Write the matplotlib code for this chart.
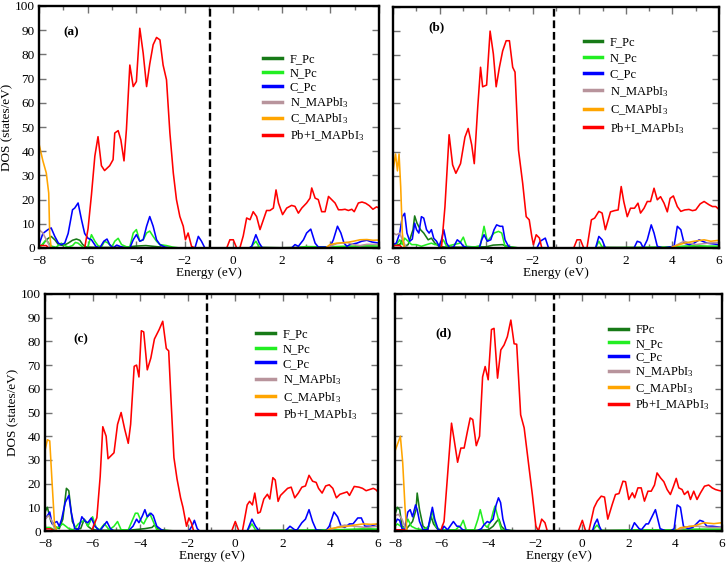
import matplotlib
matplotlib.use("Agg")
import matplotlib.pyplot as plt
import numpy as np
from matplotlib.ticker import MultipleLocator

plt.rcParams["font.family"] = ["Liberation Serif", "DejaVu Serif"]
plt.rcParams["mathtext.fontset"] = "custom"
plt.rcParams["mathtext.rm"] = "Liberation Serif"
plt.rcParams["mathtext.it"] = "Liberation Serif:italic"

# ---- data: (energy eV, DOS states/eV) ----
# panel (a)
A_FPC = [(-8, 0.5), (-7.84, 1.5), (-7.7, 3.4), (-7.5, 4.8), (-7.35, 3.4), (-7.2, 1.4), (-7.0, 1), (-6.8, 2),
         (-6.62, 3.2), (-6.46, 3.7), (-6.32, 3.2), (-6.2, 1.4), (-6.05, 0.4), (-5.5, 0.2), (-4.5, 0.3), (-4.0, 0.8),
         (-3.6, 1), (-3.2, 0.6), (-2.8, 0.2), (-2.4, 0), (0.5, 0), (1.0, 0.3), (2.0, 0.1), (3.0, 0.3), (4.0, 0.2),
         (5.0, 0.4), (6.0, 0.4)]
A_NPC = [(-8, 0), (-7.7, 3.4), (-7.5, 0.8), (-7.3, 0.3), (-7.08, 2), (-6.94, 1), (-6.8, 0.4), (-6.62, 1), (-6.5, 2.3),
         (-6.39, 2), (-6.2, 0.4), (-6.0, 0), (-5.84, 5.5), (-5.7, 2.8), (-5.57, 1), (-5.43, 0.4), (-5.3, 2.8),
         (-5.15, 2), (-5.0, 0.4), (-4.88, 2.8), (-4.74, 4), (-4.6, 1.4), (-4.4, 0.5), (-4.26, 0.5), (-4.12, 6.2),
         (-3.99, 7.6), (-3.85, 2.8), (-3.71, 3.4), (-3.57, 6.2), (-3.44, 7), (-3.3, 4.8), (-3.16, 2.8), (-3.02, 1.4),
         (-2.75, 1), (-2.5, 0.4), (-2.2, 0), (0.7, 0), (0.93, 2.8), (1.07, 0.4), (1.2, 0), (2.5, 0), (3.0, 0.6),
         (3.5, 0.5), (4.0, 0.5), (4.5, 0.7), (5.0, 0.8), (5.5, 1), (6.0, 0.8)]
A_CPC = [(-8, 1.4), (-7.84, 6), (-7.63, 7.6), (-7.5, 8.3), (-7.35, 4.8), (-7.2, 2), (-7.08, 1.4), (-6.94, 2),
         (-6.8, 6), (-6.62, 15.8), (-6.53, 16.5), (-6.39, 18.6), (-6.25, 11.7), (-6.12, 6), (-5.98, 4), (-5.84, 3.4),
         (-5.66, 0.7), (-5.5, 0), (-5.33, 2.8), (-5.2, 3.7), (-5.09, 1.4), (-4.95, 0), (-4.8, 1.2), (-4.65, 0.6),
         (-4.45, 0), (-4.26, 0), (-4.12, 3.4), (-3.99, 5.5), (-3.85, 2.8), (-3.71, 3.4), (-3.57, 9), (-3.44, 13),
         (-3.3, 9), (-3.16, 3.4), (-3.02, 1.4), (-2.82, 0.4), (-2.6, 0), (-1.58, 0), (-1.44, 4.8), (-1.31, 2.8),
         (-1.17, 0), (0.65, 0), (0.76, 0.7), (0.93, 5.5), (1.07, 2), (1.2, 0), (2.4, 0), (2.54, 1.4), (2.68, 0.7),
         (2.89, 3.4), (3.02, 6.2), (3.19, 7.8), (3.37, 2), (3.5, 0.4), (3.98, 0.4), (4.12, 3.4), (4.29, 9),
         (4.43, 6.2), (4.56, 2), (4.68, 0.7), (4.8, 1.4), (5.09, 2), (5.29, 2.8), (5.5, 3.2), (5.7, 2.5), (6.0, 2)]
A_NMA = [(-8, 7.6), (-7.84, 6.2), (-7.7, 3.4), (-7.56, 0.7), (-7.45, 0), (3.8, 0), (3.98, 0.7), (4.26, 1.8),
         (4.68, 2.3), (4.95, 1.4), (5.22, 1), (5.5, 1.5), (6.0, 1.5)]
A_CMA = [(-8, 43), (-7.84, 36), (-7.7, 31), (-7.6, 22.7), (-7.56, 6), (-7.5, 0), (3.8, 0), (3.98, 1.4), (4.26, 2),
         (4.68, 2.3), (4.95, 2.8), (5.22, 3.4), (5.5, 3.5), (5.75, 3.2), (6.0, 3.3)]
A_PBI = [(-8, 1.0), (-7.7, 1.0), (-7.6, 0), (-6.12, 0), (-5.98, 8), (-5.84, 22), (-5.7, 38), (-5.57, 46),
         (-5.43, 34), (-5.3, 32), (-5.09, 34), (-4.95, 36.5), (-4.88, 47.5), (-4.74, 48.5), (-4.63, 44.7),
         (-4.5, 36), (-4.4, 49), (-4.26, 75.6), (-4.12, 66.7), (-3.99, 68.8), (-3.85, 90.8), (-3.71, 80.5),
         (-3.57, 66.7), (-3.44, 76), (-3.3, 84), (-3.16, 87), (-3.02, 86), (-2.89, 75.6), (-2.75, 69.5),
         (-2.61, 47.5), (-2.47, 31), (-2.34, 20), (-2.2, 13), (-2.06, 9), (-1.97, 3.4), (-1.86, 6.2), (-1.72, 0.7),
         (-1.58, 0), (-0.27, 0), (-0.14, 3.4), (0.0, 3.4), (0.14, 0), (0.27, 0), (0.41, 5), (0.55, 12.4),
         (0.69, 11.7), (0.82, 15), (0.96, 13), (1.1, 7.6), (1.24, 11.7), (1.37, 15.5), (1.51, 15.5), (1.65, 16.5),
         (1.76, 24), (1.86, 18.6), (2.03, 13.8), (2.2, 16.5), (2.4, 17.6), (2.54, 17.2), (2.68, 14.4), (2.82, 16.5),
         (3.02, 18.6), (3.16, 20.6), (3.23, 24.8), (3.37, 20.6), (3.5, 20), (3.64, 15), (3.78, 15), (3.92, 21.3),
         (4.05, 20), (4.19, 18.6), (4.33, 15.8), (4.47, 15.8), (4.6, 16), (4.74, 15.5), (4.88, 16), (4.98, 15),
         (5.15, 18.6), (5.3, 19), (5.45, 18.5), (5.6, 17.5), (5.75, 16), (5.9, 17), (6.0, 16.5)]

# panel (b)
B_FPC = [(-8, 1.4), (-7.71, 1.4), (-7.6, 3.4), (-7.5, 0.7), (-7.35, 1.4), (-7.14, 7.6), (-7.07, 13.3),
         (-6.97, 10.3), (-6.82, 7.6), (-6.68, 6.2), (-6.49, 3.4), (-6.35, 4.1), (-6.2, 2), (-6.02, 0.7), (-5.8, 0.4),
         (-5.0, 0.3), (-4.0, 0.5), (-3.7, 1.2), (-3.3, 1.4), (-3.1, 0.7), (-2.8, 0.2), (-2.5, 0), (0.5, 0),
         (1.0, 0.3), (2.5, 0.2), (4.0, 0.3), (5.0, 0.5), (6.0, 0.4)]
B_NPC = [(-8, 0.7), (-7.86, 1.4), (-7.71, 3.4), (-7.6, 1.4), (-7.5, 4.1), (-7.35, 2.8), (-7.2, 1.4), (-7.0, 1.4),
         (-6.78, 0.7), (-6.56, 1.4), (-6.35, 2), (-6.2, 1.4), (-5.99, 1.4), (-5.84, 3.4), (-5.7, 0.7), (-5.4, 1.4),
         (-5.13, 2), (-4.98, 4.5), (-4.84, 0.7), (-4.5, 0.4), (-4.25, 1), (-4.09, 9), (-3.95, 2.8), (-3.8, 4.5),
         (-3.66, 6.2), (-3.47, 6.9), (-3.33, 6.2), (-3.19, 0.7), (-2.9, 0.4), (-2.6, 0), (0.7, 0), (0.84, 2.8),
         (0.98, 0.4), (1.1, 0), (3.0, 0.3), (4.0, 0.4), (4.5, 0.8), (5.0, 1), (5.5, 0.8), (6.0, 0.8)]
B_CPC = [(-8, 1.4), (-7.86, 2), (-7.71, 6.2), (-7.6, 13), (-7.5, 14.4), (-7.4, 6.2), (-7.28, 2.8), (-7.17, 3.7),
         (-7.07, 10.3), (-6.99, 7.6), (-6.89, 6.2), (-6.78, 13), (-6.68, 12.4), (-6.56, 7.6), (-6.45, 6.2),
         (-6.35, 7.6), (-6.25, 4), (-6.13, 2.8), (-6.02, 0.7), (-5.92, 3.4), (-5.82, 7.6), (-5.7, 2), (-5.56, 0),
         (-5.4, 0.4), (-5.24, 3.4), (-5.1, 2.3), (-4.98, 0.7), (-4.8, 0.2), (-4.3, 0), (-4.19, 3.4), (-4.09, 5.5),
         (-3.95, 2.8), (-3.8, 3.4), (-3.66, 7.6), (-3.55, 9.6), (-3.4, 9), (-3.29, 9), (-3.19, 3.4), (-3.04, 0.7),
         (-2.9, 0), (-1.82, 0), (-1.68, 2.8), (-1.46, 4.1), (-1.32, 0), (0.7, 0), (0.84, 4.8), (0.98, 3.4),
         (1.12, 0), (2.35, 0), (2.49, 2.8), (2.63, 2.3), (2.75, 0), (2.92, 3.4), (3.09, 9.6), (3.21, 6.2),
         (3.35, 0.7), (3.6, 0), (4.07, 0.7), (4.21, 9), (4.36, 7.6), (4.5, 2), (4.72, 1.4), (4.93, 2), (5.15, 3.4),
         (5.29, 2.8), (5.5, 2), (6.0, 1.4)]
B_NMA = [(-8, 6.2), (-7.86, 5.5), (-7.71, 6.2), (-7.6, 3.4), (-7.45, 0.7), (-7.35, 0), (3.9, 0), (4.07, 0.7),
         (4.5, 2.8), (4.75, 2), (5.0, 1.4), (5.5, 2), (6.0, 2.3)]
B_CMA = [(-8, 32), (-7.89, 39), (-7.81, 32), (-7.74, 39), (-7.67, 25.5), (-7.6, 6.2), (-7.53, 0.7), (-7.45, 0),
         (3.9, 0), (4.07, 0.7), (4.5, 2), (4.93, 2.8), (5.36, 3.4), (5.65, 2.8), (6.0, 3.2)]
B_PBI = [(-8, 1.0), (-7.7, 1.0), (-7.6, 0), (-5.92, 0), (-5.77, 17), (-5.59, 47), (-5.44, 34.5), (-5.3, 31),
         (-5.1, 35), (-4.91, 46), (-4.77, 49.6), (-4.62, 42.8), (-4.51, 35), (-4.36, 58.6), (-4.24, 75),
         (-4.15, 66.9), (-3.98, 67.6), (-3.83, 90), (-3.69, 80.5), (-3.57, 66.9), (-3.43, 75), (-3.29, 81.8),
         (-3.14, 86), (-3.0, 86), (-2.86, 75), (-2.76, 73), (-2.61, 40.6), (-2.43, 26.8), (-2.28, 13), (-2.15, 11.7),
         (-2.04, 4.8), (-1.97, 1.4), (-1.85, 5.5), (-1.71, 4.1), (-1.61, 0), (-0.24, 0), (-0.1, 3.4), (0.05, 3.4),
         (0.19, 0), (0.33, 0), (0.52, 11.7), (0.66, 12.4), (0.84, 15.2), (0.98, 14.5), (1.12, 7.6), (1.34, 15),
         (1.51, 15.5), (1.67, 15.8), (1.8, 25.5), (1.91, 19.3), (2.06, 13), (2.2, 16.5), (2.37, 16.5), (2.52, 18.6),
         (2.63, 14.5), (2.78, 16.5), (2.92, 19.3), (3.06, 19.3), (3.21, 24.8), (3.35, 20), (3.49, 21.3),
         (3.64, 18.6), (3.78, 15), (3.9, 20.6), (4.04, 21.6), (4.21, 17.2), (4.36, 15.2), (4.53, 15.8), (4.71, 16),
         (4.86, 15.5), (5.0, 15.8), (5.19, 18.3), (5.36, 19.3), (5.58, 17.9), (5.72, 17.2), (5.86, 17.2), (6.0, 16)]

# panel (c)
C_FPC = [(-8, 8), (-7.9, 10), (-7.75, 4), (-7.6, 2), (-7.4, 1), (-7.25, 5), (-7.1, 18), (-7.0, 17), (-6.85, 4),
         (-6.7, 1), (-6.5, 1), (-6.35, 5), (-6.2, 2), (-6.0, 0.5), (-5.5, 0.3), (-4.5, 0.3), (-3.8, 1), (-3.5, 1.5),
         (-3.4, 2.5), (-3.2, 0.5), (-2.8, 0.2), (-2.5, 0), (0.5, 0), (1.0, 0.3), (3.0, 0.3), (4.5, 0.4), (6.0, 0.5)]
C_NPC = [(-8, 1.5), (-7.8, 1.5), (-7.6, 0.5), (-7.4, 2), (-7.25, 3), (-7.0, 1), (-6.8, 0.5), (-6.6, 3), (-6.45, 4),
         (-6.3, 4.5), (-6.2, 2), (-6.0, 6), (-5.85, 1.5), (-5.7, 0.5), (-5.5, 3), (-5.3, 0.5), (-5.1, 2), (-4.95, 4),
         (-4.8, 0.5), (-4.5, 0.5), (-4.2, 7.5), (-4.1, 7.5), (-3.95, 4), (-3.85, 3), (-3.75, 5), (-3.6, 7.5),
         (-3.45, 4), (-3.3, 0.5), (-3.0, 0.3), (-2.7, 0), (0.5, 0), (0.7, 3), (0.85, 0.5), (1.0, 0), (2.5, 0.3),
         (3.5, 0.5), (4.5, 0.6), (5.0, 0.8), (5.5, 1), (6.0, 0.8)]
C_CPC = [(-8, 5), (-7.9, 6.5), (-7.8, 8), (-7.7, 3), (-7.5, 4), (-7.4, 2), (-7.3, 5), (-7.15, 12), (-7.0, 15),
         (-6.9, 8), (-6.75, 1), (-6.6, 0.5), (-6.45, 6), (-6.3, 4), (-6.2, 3.5), (-6.05, 5.5), (-5.9, 2), (-5.7, 0),
         (-5.55, 2), (-5.4, 4), (-5.25, 1), (-5.1, 0), (-4.5, 0), (-4.3, 2), (-4.15, 5), (-4.05, 3.5), (-3.9, 6.5),
         (-3.8, 9), (-3.7, 6), (-3.55, 7.5), (-3.45, 6.5), (-3.3, 2), (-3.1, 0.5), (-2.9, 0), (-1.95, 0),
         (-1.8, 2.5), (-1.72, 4.5), (-1.6, 1), (-1.5, 0), (0.5, 0), (0.7, 5), (0.85, 2), (1.0, 0), (2.1, 0),
         (2.3, 2), (2.5, 0.5), (2.6, 0.5), (2.8, 3.5), (2.95, 5), (3.1, 9), (3.25, 4), (3.4, 0.5), (3.8, 0),
         (3.95, 2), (4.15, 8), (4.3, 6), (4.45, 2), (4.6, 1.5), (4.8, 3), (4.95, 3), (5.15, 5.5), (5.3, 5.5),
         (5.45, 2), (5.7, 2), (6.0, 3)]
C_NMA = [(-8, 5), (-7.85, 6.5), (-7.7, 4), (-7.6, 1), (-7.5, 0), (3.8, 0), (4.0, 0.5), (4.4, 2), (4.6, 2.5),
         (5.0, 2), (5.5, 1.5), (6.0, 2)]
C_CMA = [(-8, 34), (-7.9, 38.5), (-7.8, 38), (-7.7, 20), (-7.6, 3), (-7.5, 0), (3.8, 0), (4.0, 1), (4.3, 1.5),
         (4.7, 2), (5.0, 2.5), (5.4, 3), (5.7, 2.8), (6.0, 3)]
C_PBI = [(-8, 0.9), (-7.75, 0.9), (-7.6, 0), (-6.04, 0), (-5.82, 5.6), (-5.68, 23), (-5.57, 44), (-5.43, 40),
         (-5.35, 30.5), (-5.1, 33), (-4.95, 45), (-4.8, 50), (-4.65, 43), (-4.5, 37), (-4.4, 45), (-4.25, 69.5),
         (-4.15, 70), (-4.05, 65), (-3.95, 84.5), (-3.85, 84), (-3.7, 68), (-3.55, 73), (-3.4, 81), (-3.2, 85),
         (-3.05, 88.5), (-2.9, 77), (-2.8, 76), (-2.7, 55), (-2.58, 31), (-2.45, 22), (-2.3, 14), (-2.2, 10),
         (-2.05, 2), (-1.95, 5.5), (-1.85, 3.5), (-1.75, 0), (-0.15, 0), (0.0, 4), (0.15, 0), (0.3, 0), (0.5, 11),
         (0.6, 12.5), (0.72, 11), (0.82, 16), (0.95, 7.5), (1.05, 8), (1.2, 13.5), (1.35, 15.5), (1.45, 13.5),
         (1.58, 22.5), (1.68, 21.5), (1.8, 12.5), (1.9, 15), (2.05, 16.5), (2.2, 18), (2.35, 18.5), (2.5, 14),
         (2.65, 16), (2.8, 18.5), (2.95, 19), (3.1, 23.5), (3.25, 21), (3.4, 20.5), (3.5, 18), (3.65, 16),
         (3.8, 19), (3.95, 19.5), (4.1, 18), (4.25, 14), (4.4, 15.5), (4.55, 16), (4.7, 16.5), (4.8, 15),
         (5.0, 18.8), (5.2, 18.5), (5.35, 18), (5.5, 17), (5.65, 17.5), (5.8, 18), (5.9, 17.5), (6.0, 16.5)]

# panel (d)
D_FPC = [(-8, 7), (-7.9, 10), (-7.8, 9), (-7.7, 2), (-7.5, 1), (-7.25, 4), (-7.1, 9), (-7.05, 16), (-6.95, 9),
         (-6.8, 2), (-6.6, 0.5), (-6.45, 6), (-6.35, 3), (-6.2, 1), (-6.0, 0.3), (-4.5, 0.3), (-4.0, 0.5), (-3.8, 2),
         (-3.65, 4), (-3.55, 5), (-3.45, 2), (-3.3, 0.5), (-3.0, 0.2), (-2.7, 0), (0.5, 0), (1.0, 0.3), (3.0, 0.3),
         (4.5, 0.5), (6.0, 0.5)]
D_NPC = [(-8, 2), (-7.9, 3), (-7.75, 2), (-7.6, 1), (-7.45, 5), (-7.3, 2), (-7.1, 1), (-6.8, 0.5), (-6.55, 2),
         (-6.42, 8.5), (-6.25, 2), (-6.1, 0.5), (-5.4, 0.5), (-5.3, 1.5), (-5.2, 2), (-5.08, 4.5), (-4.95, 0.5),
         (-4.6, 0.5), (-4.45, 5), (-4.35, 9), (-4.2, 3), (-4.05, 1.5), (-3.9, 4), (-3.8, 8), (-3.72, 10.5),
         (-3.6, 6), (-3.45, 0.5), (-3.2, 0.2), (-2.9, 0), (0.45, 0), (0.65, 2.5), (0.8, 0.5), (1.0, 0), (2.3, 0.5),
         (3.1, 0.5), (4.0, 0.4), (4.5, 0.8), (5.0, 0.8), (5.5, 0.8), (6.0, 0.8)]
D_CPC = [(-8, 3), (-7.9, 5), (-7.8, 4.5), (-7.7, 1), (-7.6, 0.5), (-7.45, 8), (-7.35, 9), (-7.25, 6), (-7.12, 11),
         (-7.05, 9), (-6.95, 4), (-6.8, 0.5), (-6.6, 0.5), (-6.4, 10), (-6.3, 5), (-6.15, 0.5), (-6.0, 0.3),
         (-5.9, 2), (-5.75, 0.5), (-5.5, 4), (-5.35, 2), (-5.25, 2), (-5.1, 0.5), (-4.9, 0), (-4.5, 0), (-4.4, 0.5),
         (-4.3, 1), (-4.2, 2.5), (-4.05, 4), (-3.95, 3.5), (-3.8, 5), (-3.67, 11), (-3.57, 14), (-3.48, 12),
         (-3.38, 5), (-3.25, 0.5), (-3.0, 0), (0.45, 0), (0.55, 3), (0.66, 5), (0.75, 2), (0.85, 0), (2.1, 0),
         (2.25, 3.5), (2.45, 1), (2.55, 0.5), (2.75, 3), (2.85, 3), (3.05, 7), (3.15, 9), (3.35, 1), (3.6, 0),
         (3.8, 0), (3.95, 1), (4.08, 11), (4.22, 10), (4.35, 2), (4.55, 1), (4.75, 1.5), (4.9, 3), (5.05, 4.5),
         (5.2, 4), (5.35, 2), (5.6, 2), (6.0, 1.5)]
D_NMA = [(-8, 6.5), (-7.85, 7), (-7.7, 5), (-7.55, 1), (-7.45, 0), (4.0, 0), (4.3, 1), (4.6, 2), (5.0, 2),
         (5.5, 1.5), (6.0, 1.5)]
D_CMA = [(-8, 33.7), (-7.77, 40), (-7.67, 28.8), (-7.57, 9.8), (-7.49, 0), (4.0, 0), (4.22, 1.4), (4.79, 2.1),
         (5.22, 3.5), (5.65, 3.1), (6.0, 3.5)]
D_PBI = [(-8, 0.5), (-7.6, 0.5), (-7.5, 0), (-6.05, 0), (-5.9, 4), (-5.58, 45.5), (-5.46, 38), (-5.32, 29),
         (-5.18, 35), (-5.04, 35), (-4.9, 42), (-4.78, 47.7), (-4.67, 47), (-4.52, 36), (-4.38, 40), (-4.25, 65),
         (-4.14, 69.4), (-4.01, 63.8), (-3.87, 85), (-3.76, 85.5), (-3.61, 64.5), (-3.47, 76.4), (-3.33, 78.5),
         (-3.19, 82), (-3.04, 89), (-2.9, 79), (-2.79, 78.8), (-2.62, 49), (-2.47, 43.5), (-2.26, 26.6),
         (-2.12, 15.4), (-1.97, 2.1), (-1.86, 0), (-1.72, 5), (-1.58, 3.5), (-1.48, 0), (-0.15, 0), (0.02, 4.5),
         (0.16, 0), (0.3, 0), (0.52, 9.8), (0.66, 12.6), (0.83, 14.7), (0.97, 14.3), (1.11, 5), (1.3, 11.2),
         (1.44, 15.4), (1.59, 15.8), (1.76, 21), (1.87, 20.8), (2.01, 13.3), (2.16, 16.1), (2.26, 14), (2.4, 18.2),
         (2.54, 18.2), (2.68, 12.6), (2.83, 16.8), (2.97, 16.8), (3.11, 19.4), (3.22, 24.5), (3.37, 22.4),
         (3.51, 20.8), (3.65, 17.5), (3.79, 15.4), (3.91, 18.5), (4.04, 22.2), (4.15, 18.2), (4.29, 17.5),
         (4.39, 15.4), (4.54, 16.8), (4.65, 13.3), (4.79, 16.8), (4.93, 13.3), (5.08, 16.1), (5.25, 18.9),
         (5.43, 19.4), (5.58, 18.2), (5.72, 17.5), (5.86, 17.1), (6.0, 16.8)]

LABELS = ["F_Pc", "N_Pc", "C_Pc", r"N_MAPbI$_3$", r"C_MAPbI$_3$", r"Pb+I_MAPbI$_3$"]
LABELS_D = ["FPc", "N_Pc", "C_Pc", r"N_MAPbI$_3$", r"C_MAPbI$_3$", r"Pb+I_MAPbI$_3$"]
COLORS = ["#177a17", "#22ee22", "#0000ff", "#b8949c", "#ffa500", "#ff0000"]
VBM = [-0.95, -1.1, -1.2, -1.2]   # dashed reference line per panel
TAGS = ["(a)", "(b)", "(c)", "(d)"]


def draw_panel(ax, series, labels, vline, tag, tag_xy, leg_xy, spacing, left):
    for (pts, lab, col) in zip(series, labels, COLORS):
        e, d = np.array(pts).T
        ax.plot(e, d, color=col, lw=1.15, label=lab)
    ax.axvline(vline, color="black", lw=1.7, dashes=(3.3, 1.6))
    ax.set_xlim(-8, 6)
    ax.set_ylim(0, 100)
    ax.xaxis.set_major_locator(MultipleLocator(2))
    ax.xaxis.set_minor_locator(MultipleLocator(1))
    ax.yaxis.set_major_locator(MultipleLocator(10))
    ax.tick_params(which="both", direction="in", top=True, right=True, color="0.45", labelsize=9.5)
    ax.tick_params(axis="x", pad=5)
    ax.tick_params(axis="y", pad=3)
    ax.tick_params(which="major", length=5, width=1)
    ax.tick_params(which="minor", length=3, width=1)
    for sp in ax.spines.values():
        sp.set_linewidth(1.7)
    ax.set_xlabel("Energy (eV)", fontsize=9.5, labelpad=0)
    if left:
        ax.set_ylabel("DOS (states/eV)", fontsize=9.5, labelpad=1)
    else:
        ax.tick_params(axis="y", labelleft=False)
    ax.text(tag_xy[0], tag_xy[1], tag, fontsize=9.5, fontweight="bold", ha="left", va="center")
    leg = ax.legend(loc="upper left", bbox_to_anchor=leg_xy, frameon=False, fontsize=9,
                    handlelength=1.5, handletextpad=0.6, labelspacing=spacing, borderpad=0, borderaxespad=0)
    for h in leg.get_lines():
        h.set_linewidth(2.5)


fig = plt.figure(figsize=(7.28, 5.64), dpi=100)
W, H = 728.0, 564.0
boxes = [(39, 6, 379, 248), (393, 7, 719, 248), (45, 294, 378, 531), (395, 294, 722, 531)]
axes = [fig.add_axes([l / W, 1 - b / H, (r - l) / W, (b - t) / H]) for (l, t, r, b) in boxes]

draw_panel(axes[0], [A_FPC, A_NPC, A_CPC, A_NMA, A_CMA, A_PBI], LABELS, VBM[0], TAGS[0], (-7.0, 89),
           (0.66, 0.803), 0.15, True)
draw_panel(axes[1], [B_FPC, B_NPC, B_CPC, B_NMA, B_CMA, B_PBI], LABELS, VBM[1], TAGS[1], (-6.5, 91.5),
           (0.585, 0.878), 0.31, False)
draw_panel(axes[2], [C_FPC, C_NPC, C_CPC, C_NMA, C_CMA, C_PBI], LABELS, VBM[2], TAGS[2], (-6.8, 81),
           (0.635, 0.855), 0.22, True)
draw_panel(axes[3], [D_FPC, D_NPC, D_CPC, D_NMA, D_CMA, D_PBI], LABELS_D, VBM[3], TAGS[3], (-6.25, 83.5),
           (0.655, 0.872), 0.12, False)

fig.savefig("out.png", dpi=100)
